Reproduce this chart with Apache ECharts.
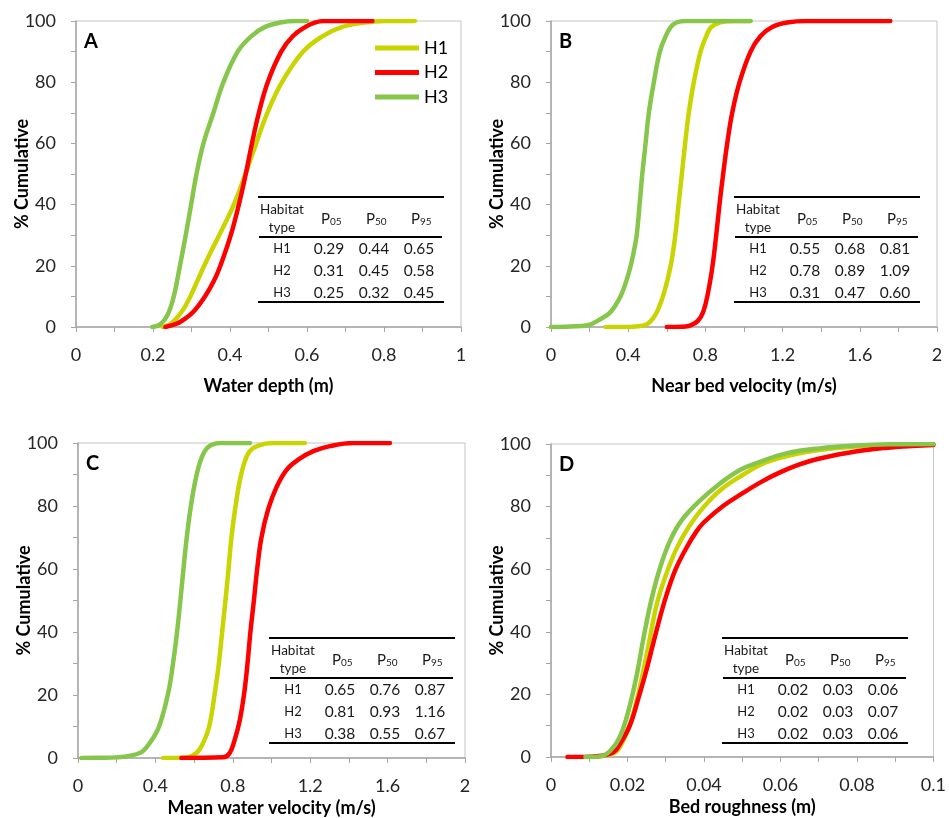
<!DOCTYPE html>
<html>
<head>
<meta charset="utf-8">
<script src="https://cdn.jsdelivr.net/npm/echarts@6/dist/echarts.min.js"></script>
<style>
  html, body { margin: 0; padding: 0; background: #fff; }
  #chart { width: 949px; height: 818px; }
</style>
</head>
<body>
<div id="chart"></div>
<script>
// Cumulative distributions of habitat variables for habitat types H1, H2, H3.
// Each series is a list of [value, cumulative %] points.

// A - Water depth (m)
const depthH1 = [[0.225,0],[0.245,1],[0.262,3],[0.28,6],[0.297,10],[0.315,15],[0.333,20],[0.352,25],[0.372,30],[0.41,40],[0.44,50],[0.468,60],[0.497,70],[0.535,80],[0.59,90],[0.64,95],[0.69,98],[0.75,99.5],[0.8,100],[0.88,100]];
const depthH2 = [[0.232,0],[0.26,1],[0.275,2],[0.305,5],[0.335,10],[0.358,15],[0.375,20],[0.402,30],[0.423,40],[0.441,50],[0.457,60],[0.475,70],[0.498,80],[0.533,90],[0.563,95],[0.595,98],[0.62,99.5],[0.645,100],[0.77,100]];
const depthH3 = [[0.198,0],[0.22,1],[0.238,4],[0.254,10],[0.27,20],[0.285,30],[0.299,40],[0.313,50],[0.331,60],[0.357,70],[0.383,80],[0.42,90],[0.455,95],[0.49,98],[0.53,99.5],[0.57,100],[0.6,100]];

// B - Near bed velocity (m/s)
const nearBedH1 = [[0.283,0],[0.40,0],[0.46,0.3],[0.50,1],[0.53,3],[0.55,5],[0.585,11],[0.62,20],[0.644,30],[0.661,40],[0.678,50],[0.695,60],[0.714,70],[0.74,80],[0.775,90],[0.804,95],[0.83,98],[0.878,99.6],[0.947,100],[1.034,100]];
const nearBedH2 = [[0.60,0],[0.68,0.1],[0.723,0.5],[0.761,2],[0.789,5],[0.813,11],[0.837,20],[0.856,30],[0.873,40],[0.892,50],[0.913,60],[0.939,70],[0.977,80],[1.034,90],[1.085,95],[1.146,98],[1.223,99.5],[1.327,100],[1.758,100]];
const nearBedH3 = [[0,0],[0.10,0.2],[0.19,0.6],[0.26,2.7],[0.31,5],[0.36,10],[0.39,15],[0.413,20],[0.43,25],[0.444,30],[0.459,40],[0.473,50],[0.49,60],[0.507,70],[0.533,80],[0.564,90],[0.594,95],[0.62,98],[0.65,99.5],[0.70,100],[1.034,100]];

// C - Mean water velocity (m/s)
const meanH1 = [[0.44,0],[0.56,0.2],[0.612,1.6],[0.647,4.8],[0.678,10],[0.707,20.6],[0.728,30],[0.745,40],[0.762,50],[0.778,60],[0.793,70],[0.812,79],[0.833,87],[0.859,93.6],[0.888,97.4],[0.931,99.2],[1.009,100],[1.172,100]];
const meanH2 = [[0.534,0],[0.75,0.2],[0.784,1.6],[0.81,5.8],[0.836,12],[0.859,20.6],[0.876,30],[0.891,40],[0.909,50],[0.926,60],[0.948,70],[0.983,79],[1.026,86],[1.078,91.5],[1.138,94.7],[1.216,97.4],[1.302,99],[1.422,100],[1.612,100]];
const meanH3 = [[0.017,0],[0.11,0.05],[0.198,0.2],[0.319,1.6],[0.371,4.8],[0.419,10],[0.466,20.6],[0.491,30],[0.512,40],[0.529,50],[0.545,60],[0.562,70],[0.581,79],[0.603,87],[0.629,93.6],[0.655,97.4],[0.684,99.2],[0.733,100],[0.888,100]];

// D - Bed roughness (m)
const roughH1 = [[0.0095,0],[0.0164,1.2],[0.0188,5],[0.0213,13],[0.0237,25],[0.0257,37],[0.0277,49],[0.03,58],[0.0328,66.5],[0.036,73.5],[0.040,80],[0.0445,85.5],[0.05,90],[0.056,94],[0.064,96.8],[0.074,98.6],[0.088,99.7],[0.1,99.9]];
const roughH2 = [[0.0043,0],[0.0086,0],[0.0125,0.3],[0.0164,1.6],[0.0181,4.3],[0.0206,10],[0.0229,19],[0.025,28],[0.0275,40],[0.03,51],[0.0326,60],[0.0355,67],[0.038,72],[0.04,75],[0.045,80.2],[0.05,84.2],[0.055,87.9],[0.06,91],[0.065,93.5],[0.07,95.3],[0.08,97.7],[0.09,99],[0.1,99.7]];
const roughH3 = [[0.009,0],[0.0129,0.2],[0.0155,2],[0.018,6.4],[0.0203,15],[0.0225,26.7],[0.0244,39.4],[0.0264,51],[0.0286,60.8],[0.0312,69.3],[0.0342,75.7],[0.039,82],[0.0442,87.4],[0.0494,91.7],[0.0546,94.3],[0.0615,97],[0.0702,98.6],[0.0798,99.5],[0.0885,99.9],[0.1,100]];

// Percentile tables (P05, P50, P95) shown in each panel
const habitatTypes = ['H1', 'H2', 'H3'];
const percentileHeads = ['05', '50', '95'];
const depthTable   = [['0.29','0.44','0.65'], ['0.31','0.45','0.58'], ['0.25','0.32','0.45']];
const nearBedTable = [['0.55','0.68','0.81'], ['0.78','0.89','1.09'], ['0.31','0.47','0.60']];
const meanTable    = [['0.65','0.76','0.87'], ['0.81','0.93','1.16'], ['0.38','0.55','0.67']];
const roughTable   = [['0.02','0.03','0.06'], ['0.02','0.03','0.07'], ['0.02','0.03','0.06']];

// Axis settings
const panelLetters = ['A', 'B', 'C', 'D'];
const xTitles = ['Water depth (m)', 'Near bed velocity (m/s)', 'Mean water velocity (m/s)', 'Bed roughness (m)'];
const xMax = [1, 2, 2, 0.1];
const xStep = [0.2, 0.4, 0.4, 0.02];
const yTitle = '% Cumulative';

const FONT = 'Lato, "Open Sans", sans-serif';
const colors = { H1: '#c9d400', H2: '#ff0000', H3: '#86c64a' };
const axisGrey = '#a6a6a6';

// Plot rectangles: [left, top, width, height]
const plots = [
  [76, 21, 385, 306],
  [551, 21, 386, 306],
  [78, 443, 387, 315],
  [551, 444, 384, 313]
];
const xNameGap = [50, 50, 41, 41];
const tableOffset = [[182, 176], [183, 176], [191, 195], [171, 194]];

const panelData = [
  [depthH1, depthH2, depthH3],
  [nearBedH1, nearBedH2, nearBedH3],
  [meanH1, meanH2, meanH3],
  [roughH1, roughH2, roughH3]
];
const tables = [depthTable, nearBedTable, meanTable, roughTable];

const grids = [], xAxes = [], yAxes = [], series = [], graphics = [];

plots.forEach((p, i) => {
  grids.push({ left: p[0], top: p[1], width: p[2], height: p[3], show: true,
    borderColor: '#c4c4c4', borderWidth: 1, backgroundColor: 'transparent' });

  const tickStyle = { color: axisGrey, width: 1 };
  xAxes.push({
    gridIndex: i, type: 'value', min: 0, max: xMax[i], interval: xStep[i],
    name: xTitles[i], nameLocation: 'middle', nameGap: xNameGap[i], nameMoveOverlap: false,
    nameTextStyle: { fontFamily: FONT, fontSize: 18, fontWeight: 'bold', color: '#000' },
    axisLine: { show: true, lineStyle: { color: axisGrey, width: 1.5 } },
    axisTick: { show: true, length: 5, lineStyle: tickStyle },
    minorTick: { show: true, splitNumber: 2, length: 5, lineStyle: tickStyle },
    splitLine: { show: false },
    axisLabel: { fontFamily: FONT, fontSize: 18, color: '#262626', margin: 19 }
  });
  yAxes.push({
    gridIndex: i, type: 'value', min: 0, max: 100, interval: 20,
    name: yTitle, nameLocation: 'middle', nameGap: 45, nameMoveOverlap: false,
    nameTextStyle: { fontFamily: FONT, fontSize: 18, fontWeight: 'bold', color: '#000' },
    axisLine: { show: true, lineStyle: { color: axisGrey, width: 1.5 } },
    axisTick: { show: true, length: 5, lineStyle: tickStyle },
    minorTick: { show: true, splitNumber: 2, length: 5, lineStyle: tickStyle },
    splitLine: { show: false },
    axisLabel: { fontFamily: FONT, fontSize: 18, color: '#262626', margin: 20 }
  });

  // draw order: H2 underneath, then H1, then H3 on top
  [1, 0, 2].forEach(k => {
    const name = habitatTypes[k];
    series.push({
      name: name, type: 'line', xAxisIndex: i, yAxisIndex: i,
      data: panelData[i][k], showSymbol: false, symbol: 'none',
      smooth: 0.4, z: 2 + k,
      lineStyle: { color: colors[name], width: 4.5, cap: 'round', join: 'round' },
      itemStyle: { color: colors[name] },
      emphasis: { disabled: true }
    });
  });

  // panel letter
  graphics.push({
    type: 'text', left: p[0] + 8, top: p[1] + 11,
    style: { text: panelLetters[i], font: 'bold 20px ' + FONT, fill: '#000' }
  });

  // percentile table
  const tx = p[0] + tableOffset[i][0];
  const ty = p[1] + tableOffset[i][1];
  const tw = 186;
  const rule = (y, x1, x2) => ({ type: 'line', silent: true,
    shape: { x1: x1, y1: y, x2: x2, y2: y }, style: { stroke: '#000', lineWidth: 2 } });
  graphics.push(rule(ty, tx, tx + tw));
  graphics.push(rule(ty + 40, tx + 1, tx + tw - 2));
  graphics.push(rule(ty + 105, tx, tx + tw));

  const colX = [24, 71, 116, 161];
  const txt = (s, x, y, size, align) => ({ type: 'text', silent: true,
    x: x, y: y,
    style: { text: s, font: size + 'px ' + FONT, fill: '#1a1a1a',
      align: align || 'center', verticalAlign: 'middle' } });
  graphics.push(txt('Habitat', tx + colX[0], ty + 13, 13.5));
  graphics.push(txt('type', tx + colX[0], ty + 31, 13.5));
  percentileHeads.forEach((h, j) => {
    graphics.push(txt('P', tx + colX[j + 1] + 1, ty + 22, 15, 'right'));
    graphics.push(txt(h, tx + colX[j + 1] + 1, ty + 25, 10, 'left'));
  });
  const rowY = [52, 74, 96];
  habitatTypes.forEach((h, r) => {
    graphics.push(txt(h, tx + colX[0], ty + rowY[r], 13));
    tables[i][r].forEach((v, c) => {
      graphics.push(txt(v, tx + colX[c + 1], ty + rowY[r], 15.5));
    });
  });
});

const chart = echarts.init(document.getElementById('chart'), null, { renderer: 'canvas' });
chart.setOption({
  animation: false,
  backgroundColor: '#fff',
  grid: grids,
  xAxis: xAxes,
  yAxis: yAxes,
  legend: {
    data: habitatTypes, orient: 'vertical', left: 370, top: 34,
    icon: 'rect', itemWidth: 44, itemHeight: 5, itemGap: 6.5,
    textStyle: { fontFamily: FONT, fontSize: 18, color: '#000' },
    selectedMode: false
  },
  series: series,
  graphic: graphics
});
</script>
</body>
</html>
